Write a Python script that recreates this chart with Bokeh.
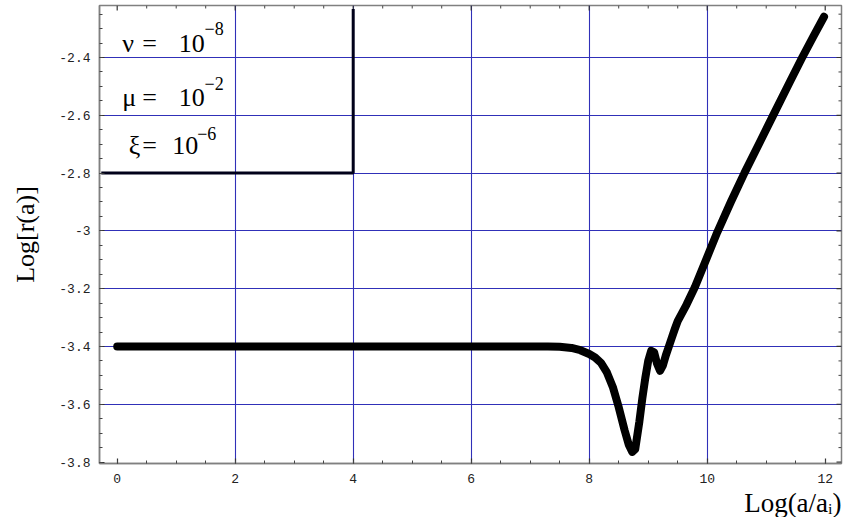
from bokeh.plotting import figure
from bokeh.models import Range1d, FixedTicker, Label, Title
from bokeh.embed import file_html
from bokeh.resources import INLINE

# ---- data ----
curve_x = [0, 1, 2, 3, 4, 5, 6, 7, 7.3, 7.5, 7.7, 7.85, 8.0, 8.1, 8.2, 8.3, 8.4, 8.5,
           8.6, 8.67, 8.73, 8.78, 8.85, 8.9, 8.95, 9.0, 9.05, 9.1, 9.15, 9.2, 9.25,
           9.3, 9.35, 9.4, 9.45, 9.5, 9.65, 9.79, 10.0, 10.17, 10.4, 10.63, 10.9,
           11.13, 11.4, 11.61, 11.8, 11.98]
curve_y = [-3.4, -3.4, -3.4, -3.4, -3.4, -3.4, -3.4, -3.4, -3.4, -3.401, -3.405,
           -3.413, -3.426, -3.438, -3.457, -3.49, -3.54, -3.61, -3.69, -3.74, -3.765,
           -3.755, -3.66, -3.58, -3.51, -3.45, -3.415, -3.42, -3.46, -3.484, -3.465,
           -3.43, -3.40, -3.37, -3.34, -3.312, -3.255, -3.195, -3.09, -3.005, -2.9,
           -2.8, -2.69, -2.595, -2.485, -2.4, -2.327, -2.259]

box_x = [-0.27, 4, 4]
box_y = [-2.8, -2.8, -2.2325]

x_tick_values = [0, 2, 4, 6, 8, 10, 12]
x_tick_labels = ["0", "2", "4", "6", "8", "10", "12"]
y_tick_values = [-3.8, -3.6, -3.4, -3.2, -3.0, -2.8, -2.6, -2.4]
y_tick_labels = ["-3.8", "-3.6", "-3.4", "-3.2", "-3", "-2.8", "-2.6", "-2.4"]
x_grid_values = [2, 4, 6, 8, 10]
y_grid_values = [-3.6, -3.4, -3.2, -3.0, -2.8, -2.6, -2.4]
x_minor = [i * 0.5 for i in range(0, 25)]
y_minor = [round(-3.8 + i * 0.05, 2) for i in range(0, 32)]

param_names = ["\u03bd", "\u03bc", "\u03be"]
param_base = ["10", "10", "10"]
param_exp = ["\u22128", "\u22122", "\u22126"]

SERIF = "Liberation Serif"
MONO = "Liberation Mono"

X0, X1 = -0.3, 12.276
Y0, Y1 = -3.805, -2.220
PX_X = 59.0    # pixels per x unit
PX_Y = 289.0   # pixels per y unit

p = figure(frame_width=742, frame_height=458,
           x_range=Range1d(X0, X1), y_range=Range1d(Y0, Y1),
           output_backend="svg", toolbar_location=None,
           min_border_left=99, min_border_top=5, min_border_right=4,
           min_border_bottom=20, background_fill_color="white",
           border_fill_color="white")

p.outline_line_color = "#808080"
p.outline_line_width = 1.5

def style_axis(ax, ticker, labels, standoff):
    ax.ticker = ticker
    ax.axis_line_color = "#808080"
    ax.axis_line_width = 1.5
    ax.major_tick_in = 5
    ax.major_tick_out = 0
    ax.minor_tick_in = 3
    ax.minor_tick_out = 0
    ax.major_tick_line_color = "#333333"
    ax.minor_tick_line_color = "#444444"
    ax.major_tick_line_width = 1.2
    ax.minor_tick_line_width = 1
    ax.major_label_overrides = {v: s for v, s in zip(ticker.ticks, labels)}
    ax.major_label_text_font = MONO
    ax.major_label_text_font_size = "13px"
    ax.major_label_text_color = "#222222"
    ax.major_label_standoff = standoff

style_axis(p.xaxis[0], FixedTicker(ticks=x_tick_values, minor_ticks=x_minor),
           x_tick_labels, 10)
style_axis(p.yaxis[0], FixedTicker(ticks=y_tick_values, minor_ticks=y_minor),
           y_tick_labels, 9)
p.yaxis[0].axis_label = "Log[r(a)]"
p.yaxis[0].axis_label_text_font = SERIF
p.yaxis[0].axis_label_text_font_size = "26px"
p.yaxis[0].axis_label_text_font_style = "normal"
p.yaxis[0].axis_label_text_color = "black"
p.yaxis[0].axis_label_standoff = 16

# x axis title at the bottom right
xt = Title(text="Log(a/a\u1d62)", align="right",
           text_font=SERIF + ", DejaVu Serif", text_font_size="27px",
           text_font_style="normal", text_color="black", standoff=0)
p.add_layout(xt, "below")

p.xgrid.ticker = FixedTicker(ticks=x_grid_values)
p.ygrid.ticker = FixedTicker(ticks=y_grid_values)
for g in (p.xgrid[0], p.ygrid[0]):
    g.grid_line_color = "#3030b8"
    g.grid_line_width = 1.1
    g.grid_line_alpha = 1.0

# tick marks on top and right edges (ticks pointing inwards)
top_major = x_tick_values
top_minor = [v for v in x_minor if v not in x_tick_values]
p.segment(x0=top_major, y0=[Y1] * len(top_major), x1=top_major,
          y1=[Y1 - 5 / PX_Y] * len(top_major), line_color="#333333", line_width=1.2)
p.segment(x0=top_minor, y0=[Y1] * len(top_minor), x1=top_minor,
          y1=[Y1 - 3 / PX_Y] * len(top_minor), line_color="#444444", line_width=1)
right_minor = [v for v in y_minor if round(v, 2) not in [round(t, 2) for t in y_tick_values]]
p.segment(x0=[X1] * len(y_tick_values), y0=y_tick_values,
          x1=[X1 - 5 / PX_X] * len(y_tick_values), y1=y_tick_values,
          line_color="#333333", line_width=1.2)
p.segment(x0=[X1] * len(right_minor), y0=right_minor,
          x1=[X1 - 3 / PX_X] * len(right_minor), y1=right_minor,
          line_color="#444444", line_width=1)

# inset box lines
p.line(box_x, box_y, line_color="#00001a", line_width=3)

# main curve
p.line(curve_x, curve_y, line_color="black", line_width=8,
       line_cap="round", line_join="round")

# reference pixel -> data helpers (for text placement only)
def dx(px):
    return X0 + (px - 99) / PX_X

def dy(py):
    return Y1 - (py - 5) / PX_Y

name_px = [121.7, 121.7, 128.3]
eq_px = [141.7, 141.7, 141.7]
base_px = [178.3, 178.3, 171.7]
exp_px = [204.0, 204.0, 196.7]
base_py = [43.0, 97.3, 145.0]
exp_py = [28.0, 83.0, 133.0]

for i in range(3):
    for txt, px, py, size in [(param_names[i], name_px[i], base_py[i], "26px"),
                              ("=", eq_px[i], base_py[i], "26px"),
                              (param_base[i], base_px[i], base_py[i], "26px"),
                              (param_exp[i], exp_px[i], exp_py[i], "18px")]:
        p.add_layout(Label(x=dx(px), y=dy(py), text=txt, text_font=SERIF,
                           text_font_size=size, text_color="black",
                           text_baseline="alphabetic", text_align="left"))

open("out.html", "w").write(file_html(p, INLINE))
